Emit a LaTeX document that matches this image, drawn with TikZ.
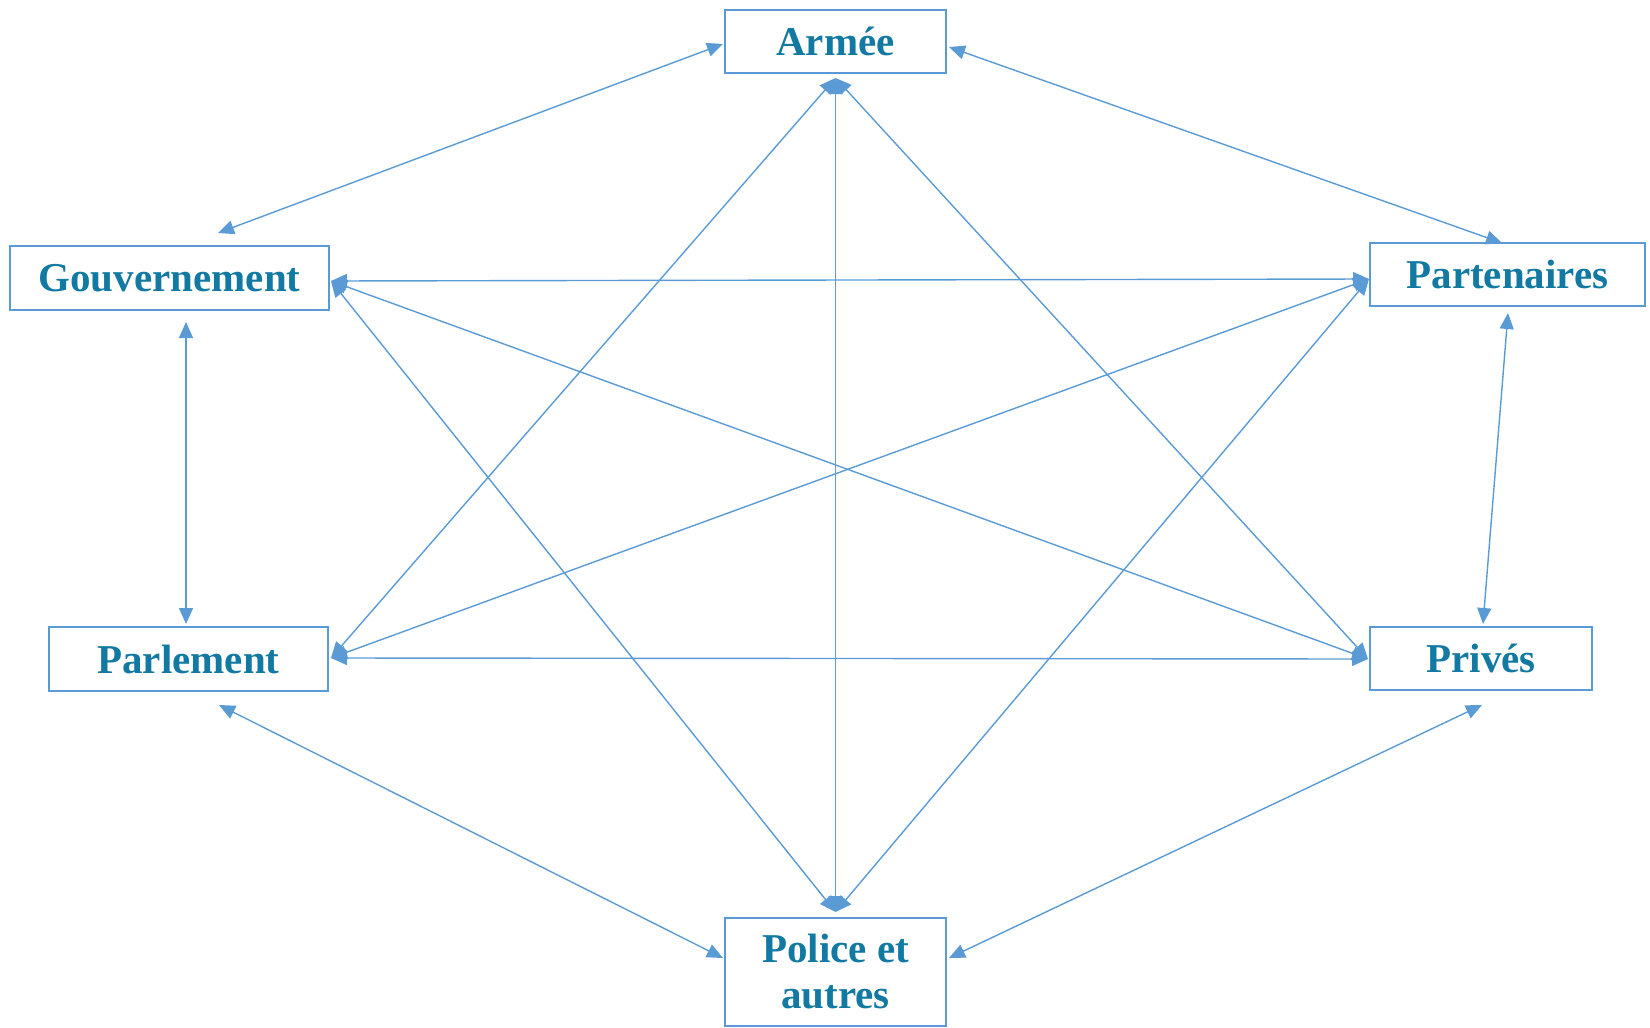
\documentclass[tikz,border=0pt]{standalone}
\usepackage{fontspec}
\setmainfont{Liberation Serif}
\usetikzlibrary{arrows.meta}
\definecolor{linecol}{RGB}{91,155,213}
\definecolor{txtcol}{RGB}{18,122,162}
\tikzset{
  box/.style={draw=linecol, line width=2.8pt, fill=white, inner sep=0pt,
    font=\fontsize{41}{46}\selectfont\bfseries, text=txtcol, align=center},
  link/.style={draw=linecol, line width=1.4pt,
    {Triangle[length=16pt,width=14pt]}-{Triangle[length=16pt,width=14pt]}}
}
\begin{document}
\begin{tikzpicture}[x=1pt,y=-1pt]
\useasboundingbox (0,0) rectangle (1650,1028);
% boxes
\node[box, minimum width=221pt, minimum height=63pt] (arm) at (835.5,41.5) {Armée};
\node[box, minimum width=319pt, minimum height=64pt] (gov) at (169.5,278) {Gouvernement};
\node[box, minimum width=275pt, minimum height=63pt] (par) at (1507.5,274.5) {Partenaires};
\node[box, minimum width=279pt, minimum height=64pt] (parl) at (188.5,659) {Parlement};
\node[box, minimum width=222pt, minimum height=63pt] (priv) at (1481,658.5) {Privés};
\node[box, minimum width=221pt, minimum height=108pt] (pol) at (835.5,972) {Police et\\autres};
% anchor points
\coordinate (aS) at (835.5,78);
\coordinate (aW) at (723,44);
\coordinate (aE) at (949,47);
\coordinate (gE) at (331,281);
\coordinate (gT) at (218,233);
\coordinate (gB) at (186,322);
\coordinate (pW) at (1369,279);
\coordinate (pT) at (1502,243);
\coordinate (pB) at (1508,313);
\coordinate (lE) at (331,658);
\coordinate (lT) at (186,624);
\coordinate (lB) at (219,705);
\coordinate (rW) at (1368,659);
\coordinate (rT) at (1483,624);
\coordinate (rB) at (1482,705);
\coordinate (oN) at (835.5,912);
\coordinate (oW) at (723,958);
\coordinate (oE) at (949,958);
% outer ring
\draw[link] (gT) -- (aW);
\draw[link] (aE) -- (pT);
\draw[link] (gB) -- (lT);
\draw[link] (pB) -- (rT);
\draw[link] (lB) -- (oW);
\draw[link] (rB) -- (oE);
% inner connections
\draw[link] (gE) -- (pW);
\draw[link] (gE) -- (rW);
\draw[link] (gE) -- (oN);
\draw[link] (lE) -- (aS);
\draw[link] (lE) -- (pW);
\draw[link] (lE) -- (rW);
\draw[link] (aS) -- (oN);
\draw[link] (aS) -- (rW);
\draw[link] (pW) -- (oN);
\end{tikzpicture}
\end{document}
